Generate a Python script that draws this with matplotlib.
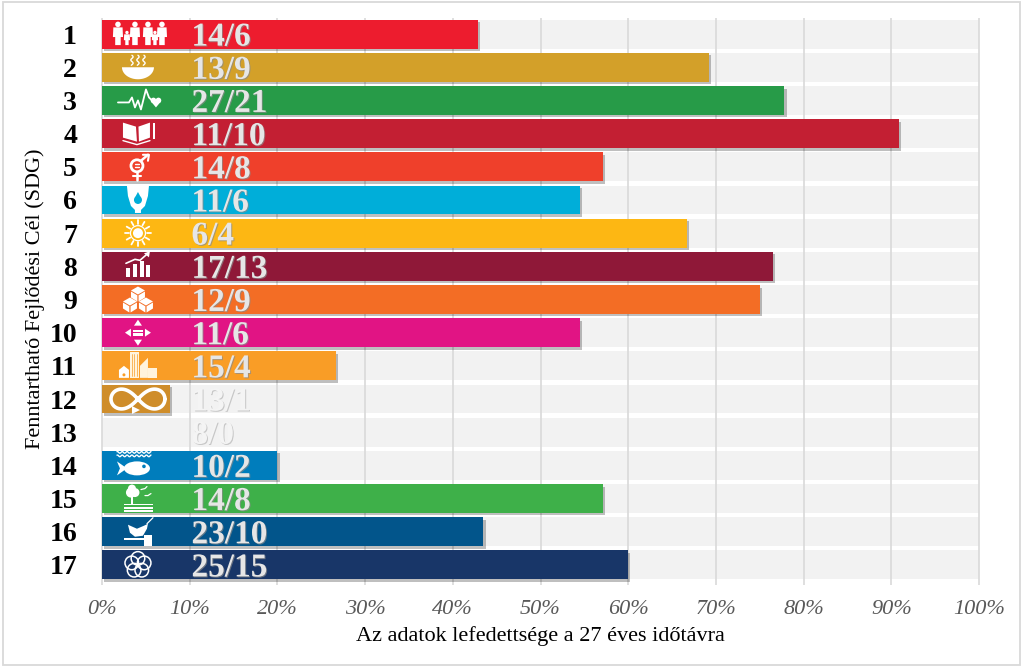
import numpy as np
import matplotlib
matplotlib.use('Agg')
from matplotlib import pyplot as plt
from matplotlib import patheffects as pe
from matplotlib.patches import Circle, Ellipse, Polygon, Rectangle
from matplotlib.transforms import Affine2D

plt.rcParams['font.family'] = ['Liberation Serif', 'DejaVu Serif']

goals = list(range(1, 18))
coverage = [42.9, 69.2, 77.8, 90.9, 57.1, 54.5, 66.7, 76.5, 75.0, 54.5, 26.7, 7.7, 0.0, 20.0, 57.1, 43.5, 60.0]
labels = ['14/6', '13/9', '27/21', '11/10', '14/8', '11/6', '6/4', '17/13', '12/9',
          '11/6', '15/4', '13/1', '8/0', '10/2', '14/8', '23/10', '25/15']
colors = ['#ED1C2E', '#D3A029', '#279B48', '#C31F33', '#EF402B', '#00AED9', '#FDB713', '#8F1838', '#F36D25',
          '#E11484', '#F99D26', '#CF8D2A', '#48773E', '#007DBC', '#3EB049', '#02558B', '#183668']
xticks = list(range(0, 101, 10))

W, H = 1024, 671
fig = plt.figure(figsize=(W / 100, H / 100), dpi=100)
fig.patch.set_facecolor('white')
fig.add_artist(Rectangle((3 / W, 1 - 665 / H), 1017 / W, 663 / H, transform=fig.transFigure,
                         fc='white', ec='#d9d9d9', lw=1.3, zorder=-1))

ax = fig.add_axes([102 / W, 1 - 581.5 / H, 877 / W, 564 / H])
ax.set_xlim(0, 100)
ax.set_ylim(17.5, 0.5)
ax.patch.set_alpha(0)

ax.barh(goals, [100] * 17, height=0.87, color='#f2f2f2', zorder=1)
ax.vlines(xticks, 0.5, 17.6, color='#d9d9d9', lw=1.2, zorder=2, clip_on=False)
bars = ax.barh(goals, coverage, height=0.87, color=colors, zorder=3)
for b, v in zip(bars, coverage):
    if v > 0:
        b.set_path_effects([pe.SimplePatchShadow(offset=(1.6, -1.8), shadow_rgbFace='#000000', alpha=0.25), pe.Normal()])

for g, lab, v in zip(goals, labels, coverage):
    on_bar = v > 10
    face = '#e6e6e6' if on_bar else '#f4f4f4'
    edge = '#8a8a8a' if on_bar else '#b5b5b5'
    ax.text(10.2, g + 0.09, lab, fontsize=24, fontweight='bold', color=face, va='center', ha='left', zorder=5,
            path_effects=[pe.withSimplePatchShadow(offset=(0.7, -0.7), shadow_rgbFace=edge, alpha=0.7)])

for s in ax.spines.values():
    s.set_visible(False)
ax.set_xticks(xticks)
ax.set_xticklabels(['%d%%' % t for t in xticks], fontsize=16, fontstyle='italic', color='#595959')
ax.set_yticks(goals)
ax.set_yticklabels(goals, fontsize=20, fontweight='bold', color='black')
ax.tick_params(axis='x', length=0, pad=13)
ax.tick_params(axis='y', length=0, pad=18)
fig.text(540 / W, 1 - 636 / H, 'Az adatok lefedettsége a 27 éves időtávra', fontsize=16, ha='center', va='center')
fig.text(35 / W, 1 - 299 / H, 'Fenntartható Fejlődési Cél (SDG)', fontsize=16, rotation=90, ha='center', va='center')


# icons are drawn in pixels around the middle of each bar, y pointing down
def icon_transform(row):
    cx, cy = ax.transData.transform((4.1, row))
    return Affine2D().scale(1, -1).translate(cx, cy)


def add(t, artist):
    artist.set_transform(t)
    artist.set_clip_on(False)
    artist.set_zorder(6)
    ax.add_artist(artist)


def fill(t, pts, c='white'):
    add(t, Polygon(pts, closed=True, fc=c, ec='none'))


def line(t, xs, ys, lw=1.4, c='white'):
    add(t, plt.Line2D(xs, ys, color=c, lw=lw, solid_capstyle='round', solid_joinstyle='round'))


def dot(t, x, y, r, c='white'):
    add(t, Circle((x, y), r, fc=c, ec='none'))


def ring(t, x, y, r, lw=1.4, c='white'):
    add(t, Circle((x, y), r, fc='none', ec=c, lw=lw))


def person(t, x, top, h):
    w = h * 0.2
    dot(t, x, top + h * 0.1, h * 0.12)
    fill(t, [(x - w, top + h * 0.23), (x + w, top + h * 0.23), (x + w * 1.1, top + h * 0.65), (x + w * 0.6, top + h * 0.65),
             (x + w * 0.6, top + h), (x - w * 0.6, top + h), (x - w * 0.6, top + h * 0.65), (x - w * 1.1, top + h * 0.65)])


def icon_people(t):
    for x in (-20, -3, 10, 24):
        person(t, x, -12, 23)
    for x in (-11, 17):
        person(t, x, -3, 14)


def icon_bowl(t):
    a = np.linspace(0, np.pi, 30)
    fill(t, np.column_stack([16 * np.cos(a), 12 * np.sin(a)]))
    ys = np.linspace(-12, -2, 12)
    for x0 in (-6, 0, 6):
        line(t, x0 + 1.2 * np.sin((ys + 12) * 1.0), ys, lw=1)


def icon_pulse(t):
    line(t, [-20, -9, -6, -3, 0, 3, 8, 11, 14], [2, 2, -3, 7, 0, 9, -11, -3, 0], lw=1.3)
    dot(t, 15.5, 0, 2.8)
    dot(t, 20.5, 0, 2.8)
    fill(t, [(13, 1), (23, 1), (18, 7)])


def icon_book(t):
    fill(t, [(-15, -11), (-2, -7), (-1, 8), (-15, 4)])
    fill(t, [(0.5, -7), (12, -11), (12, 4), (1, 8)])
    line(t, [-15, -1, 12], [7, 11, 7], lw=1)
    add(t, Rectangle((15, -11), 2, 16, fc='white', ec='none'))


def icon_gender(t):
    ring(t, -1, -1, 6, lw=2)
    line(t, [-1, -1], [5, 13], lw=1.8)
    line(t, [-5, 3], [9, 9], lw=1.5)
    line(t, [3, 10], [-6, -12], lw=1.8)
    line(t, [5, 11, 10], [-12, -12, -6], lw=1.5)
    line(t, [-3, 1], [-2.5, -2.5], lw=1)
    line(t, [-3, 1], [0.5, 0.5], lw=1)


def icon_water(t):
    fill(t, [(-11, -14), (11, -14), (10, -4), (7, 6), (3, 10), (3, 13), (-3, 13), (-3, 10), (-7, 6), (-10, -4)])
    dot(t, 0, 0, 4, c='#00AED9')
    fill(t, [(-3.5, -1.5), (3.5, -1.5), (0, -8)], c='#00AED9')


def icon_sun(t):
    dot(t, 0, 0, 5)
    ring(t, 0, 0, 7.5, lw=0.9)
    for a in np.radians(np.arange(0, 360, 30)):
        line(t, [9 * np.cos(a), 13 * np.cos(a)], [9 * np.sin(a), 13 * np.sin(a)], lw=1.3)


def icon_growth(t):
    for x, top in ((-12, 2), (-5, -2), (2, -5), (8, -1)):
        add(t, Rectangle((x, top), 4, 11 - top, fc='white', ec='none'))
    line(t, [-12, -3, 2, 10], [-3, -7, -6, -13], lw=1.2)
    fill(t, [(6, -13), (12, -15), (11, -9)])


def icon_cubes(t):
    for x, y in ((0, -6), (-8, 5), (8, 5)):
        fill(t, [(x, y - 7), (x + 7, y - 3), (x, y + 1), (x - 7, y - 3)])
        fill(t, [(x - 7, y - 2), (x - 0.6, y + 1.8), (x - 0.6, y + 8), (x - 7, y + 4)])
        fill(t, [(x + 7, y - 2), (x + 0.6, y + 1.8), (x + 0.6, y + 8), (x + 7, y + 4)])


def icon_equal(t):
    fill(t, [(-4, -7), (0, -13), (4, -7)])
    fill(t, [(-4, 7), (0, 13), (4, 7)])
    fill(t, [(-7, -4), (-13, 0), (-7, 4)])
    fill(t, [(7, -4), (13, 0), (7, 4)])
    add(t, Rectangle((-5, -3), 10, 2.2, fc='white', ec='none'))
    add(t, Rectangle((-5, 0.8), 10, 2.2, fc='white', ec='none'))


def icon_city(t):
    c = '#F99D26'
    add(t, Rectangle((-8, -14), 9, 26, fc='#fff3dc', ec='none'))
    fill(t, [(-19, 4), (-14, 0), (-9, 4), (-9, 12), (-19, 12)])
    fill(t, [(2, 12), (2, 0), (10, -8), (10, 12)], c='#fff3dc')
    add(t, Rectangle((10, 2), 9, 10, fc='#fff3dc', ec='none'))
    for gx in (-6, -3.5, -1):
        line(t, [gx, gx], [-12, 10], lw=0.5, c=c)
    dot(t, -14, 9, 1.5, c=c)


def icon_infinity(t):
    s = np.linspace(0, 2 * np.pi, 80)
    line(t, 27 * np.cos(s) / (1 + np.sin(s) ** 2), 28 * np.sin(s) * np.cos(s) / (1 + np.sin(s) ** 2), lw=2.6)
    fill(t, [(-6, 7), (2, 11), (-6, 15)])


def icon_fish(t):
    xs = np.linspace(-21, 13, 40)
    for y in (-13, -9.5):
        line(t, xs, y + 0.9 * np.sin(xs * 1.3), lw=1)
    add(t, Ellipse((-1, 3), 26, 14, fc='white', ec='none'))
    fill(t, [(-11, 3), (-21, -4), (-18, 3), (-21, 10)])
    dot(t, 6, 1, 1.8, c='#007DBC')


def icon_tree(t):
    dot(t, -7, -6, 5)
    dot(t, -3, -6, 4.5)
    dot(t, -6, -10, 4)
    add(t, Rectangle((-6.5, -4), 2, 10, fc='white', ec='none'))
    for y in (5, 8.5, 11.5):
        add(t, Rectangle((-14, y), 29, 1.6, fc='white', ec='none'))
    line(t, [3, 7, 9], [-9, -10, -12], lw=0.9)
    line(t, [7, 10, 13], [-3, -3, -5], lw=0.9)


def icon_dove(t):
    fill(t, [(-10, -7), (-1, -3), (6, -6), (10, -8), (9, -3), (5, 4), (-3, 5), (-8, 1)])
    add(t, Rectangle((-14, 6), 22, 2.4, fc='white', ec='none'))
    add(t, Rectangle((6, 3), 8, 11, fc='white', ec='none'))
    line(t, [9, 15], [-8, -14], lw=0.9)


def icon_flower(t):
    for a in np.radians(np.arange(-90, 270, 72)):
        ring(t, 6.5 * np.cos(a), 6.5 * np.sin(a), 6.8, lw=1.1)


icons = {1: icon_people, 2: icon_bowl, 3: icon_pulse, 4: icon_book, 5: icon_gender, 6: icon_water, 7: icon_sun,
         8: icon_growth, 9: icon_cubes, 10: icon_equal, 11: icon_city, 12: icon_infinity, 14: icon_fish,
         15: icon_tree, 16: icon_dove, 17: icon_flower}
for row, draw in icons.items():
    draw(icon_transform(row))

fig.savefig('out.png', dpi=100)
